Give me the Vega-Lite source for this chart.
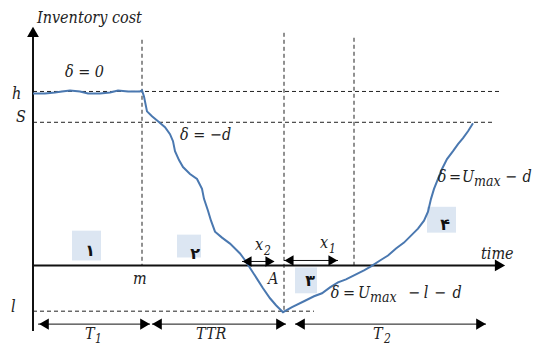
{
  "$schema": "https://vega.github.io/schema/vega-lite/v6.json",
  "width": 542,
  "height": 345,
  "autosize": {"type": "fit", "contains": "padding"},
  "padding": 0,
  "background": "white",
  "config": {"view": {"stroke": null}},
  "datasets": {
    "boxes": [
      {"x": 39, "x2": 68, "y": 35, "y2": 5},
      {"x": 144, "x2": 168, "y": 31, "y2": 8},
      {"x": 262, "x2": 284, "y": -2, "y2": -28},
      {"x": 394, "x2": 423, "y": 59, "y2": 33}
    ],
    "dashed": [
      {"name": "h", "x": 0, "x2": 467, "y": 175, "y2": 175},
      {"name": "S", "x": 0, "x2": 461, "y": 144, "y2": 144},
      {"name": "l", "x": 0, "x2": 281, "y": -46, "y2": -46},
      {"name": "m", "x": 109, "x2": 109, "y": 227, "y2": 0},
      {"name": "A", "x": 251, "x2": 251, "y": 234, "y2": -46},
      {"name": "x1", "x": 321, "x2": 321, "y": 229, "y2": 0}
    ],
    "dims": [
      {"name": "T1", "x": 5, "x2": 117, "y": -59, "y2": -59},
      {"name": "TTR", "x": 119, "x2": 253, "y": -59, "y2": -59},
      {"name": "T2", "x": 262, "x2": 453, "y": -59, "y2": -59},
      {"name": "x2", "x": 209, "x2": 241, "y": 4, "y2": 4},
      {"name": "x1", "x": 251, "x2": 305, "y": 5, "y2": 5}
    ],
    "axes": [
      {"name": "cost", "x": 0, "x2": 0, "y": -66, "y2": 232},
      {"name": "time", "x": 0, "x2": 465, "y": 0, "y2": 0}
    ],
    "heads": [
      {"x": 0, "y": 235, "shape": "triangle-up", "kind": "axis"},
      {"x": 467, "y": 0, "shape": "triangle-right", "kind": "axis"},
      {"x": 11, "y": -59, "shape": "triangle-left", "kind": "dim"},
      {"x": 112, "y": -59, "shape": "triangle-right", "kind": "dim"},
      {"x": 124, "y": -59, "shape": "triangle-left", "kind": "dim"},
      {"x": 248, "y": -59, "shape": "triangle-right", "kind": "dim"},
      {"x": 267, "y": -59, "shape": "triangle-left", "kind": "dim"},
      {"x": 448, "y": -59, "shape": "triangle-right", "kind": "dim"},
      {"x": 214, "y": 4, "shape": "triangle-left", "kind": "small"},
      {"x": 237, "y": 4, "shape": "triangle-right", "kind": "small"},
      {"x": 256, "y": 5, "shape": "triangle-left", "kind": "small"},
      {"x": 300, "y": 5, "shape": "triangle-right", "kind": "small"}
    ],
    "curve": [
      {"x": 0, "y": 173}, {"x": 12, "y": 173}, {"x": 22, "y": 174}, {"x": 29, "y": 175},
      {"x": 37, "y": 176}, {"x": 47, "y": 175}, {"x": 55, "y": 173}, {"x": 67, "y": 173},
      {"x": 77, "y": 174}, {"x": 85, "y": 176}, {"x": 95, "y": 175}, {"x": 107, "y": 175},
      {"x": 109, "y": 176}, {"x": 111, "y": 170}, {"x": 114, "y": 155}, {"x": 119, "y": 150},
      {"x": 125, "y": 145}, {"x": 132, "y": 139}, {"x": 137, "y": 132}, {"x": 140, "y": 125},
      {"x": 142, "y": 115}, {"x": 146, "y": 106}, {"x": 150, "y": 99}, {"x": 157, "y": 92},
      {"x": 164, "y": 87}, {"x": 169, "y": 77}, {"x": 171, "y": 67}, {"x": 175, "y": 55},
      {"x": 178, "y": 45}, {"x": 182, "y": 34}, {"x": 189, "y": 28}, {"x": 197, "y": 22},
      {"x": 207, "y": 12}, {"x": 213, "y": 4}, {"x": 218, "y": -4}, {"x": 225, "y": -15},
      {"x": 230, "y": -23}, {"x": 237, "y": -33}, {"x": 243, "y": -40}, {"x": 250, "y": -47},
      {"x": 259, "y": -42}, {"x": 271, "y": -36}, {"x": 281, "y": -31}, {"x": 289, "y": -28},
      {"x": 297, "y": -22}, {"x": 305, "y": -17}, {"x": 313, "y": -14}, {"x": 323, "y": -9},
      {"x": 331, "y": -5}, {"x": 338, "y": -1}, {"x": 347, "y": 5}, {"x": 355, "y": 10},
      {"x": 363, "y": 17}, {"x": 371, "y": 23}, {"x": 379, "y": 31}, {"x": 385, "y": 37},
      {"x": 391, "y": 45}, {"x": 395, "y": 54}, {"x": 398, "y": 67}, {"x": 401, "y": 77},
      {"x": 405, "y": 87}, {"x": 409, "y": 97}, {"x": 414, "y": 107}, {"x": 420, "y": 115},
      {"x": 425, "y": 122}, {"x": 430, "y": 128}, {"x": 435, "y": 135}, {"x": 440, "y": 143}
    ],
    "digits": [
      {"x": 57, "y": 15, "text": "۱"},
      {"x": 162, "y": 12, "text": "۲"},
      {"x": 277, "y": -16, "text": "۳"},
      {"x": 412, "y": 41, "text": "۴"}
    ],
    "labels": [
      {"x": 4, "y": 249, "text": "Inventory cost"},
      {"x": 32, "y": 195, "text": "δ = 0"},
      {"x": -21, "y": 172, "text": "h"},
      {"x": -17, "y": 149, "text": "S"},
      {"x": 147, "y": 131, "text": "δ = −d"},
      {"x": 100, "y": -14, "text": "m"},
      {"x": -22, "y": -42, "text": "l"},
      {"x": 52, "y": -69, "text": "T"},
      {"x": 163, "y": -69, "text": "TTR"},
      {"x": 340, "y": -69, "text": "T"},
      {"x": 222, "y": 21, "text": "x"},
      {"x": 287, "y": 23, "text": "x"},
      {"x": 235, "y": -14, "text": "A"},
      {"x": 448, "y": 12, "text": "time"}
    ],
    "pieces": [
      {"x": 409, "y": 89, "text": "δ"},
      {"x": 422, "y": 89, "text": "="},
      {"x": 435, "y": 89, "text": "U"},
      {"x": 478, "y": 89, "text": "−"},
      {"x": 494, "y": 89, "text": "d"},
      {"x": 302, "y": -28, "text": "δ"},
      {"x": 316, "y": -28, "text": "="},
      {"x": 331, "y": -28, "text": "U"},
      {"x": 381, "y": -28, "text": "−"},
      {"x": 393, "y": -28, "text": "l"},
      {"x": 407, "y": -28, "text": "−"},
      {"x": 424, "y": -28, "text": "d"}
    ],
    "subs": [
      {"x": 62, "y": -74, "text": "1"},
      {"x": 351, "y": -74, "text": "2"},
      {"x": 231, "y": 15, "text": "2"},
      {"x": 296, "y": 17, "text": "1"}
    ],
    "maxsubs": [
      {"x": 441, "y": 84, "text": "max"},
      {"x": 337, "y": -33, "text": "max"}
    ]
  },
  "encoding": {
    "x": {"field": "x", "type": "quantitative", "scale": {"domain": [-33, 509], "nice": false, "zero": false}, "axis": null},
    "y": {"field": "y", "type": "quantitative", "scale": {"domain": [-78, 267], "nice": false, "zero": false}, "axis": null}
  },
  "layer": [
    {
      "data": {"name": "boxes"},
      "mark": {"type": "rect", "fill": "#dce6f2"},
      "encoding": {"x2": {"field": "x2"}, "y2": {"field": "y2"}}
    },
    {
      "data": {"name": "dashed"},
      "mark": {"type": "rule", "stroke": "#222222", "strokeWidth": 1, "strokeDash": [4, 3]},
      "encoding": {"x2": {"field": "x2"}, "y2": {"field": "y2"}}
    },
    {
      "data": {"name": "dims"},
      "mark": {"type": "rule", "stroke": "#111111", "strokeWidth": 1},
      "encoding": {"x2": {"field": "x2"}, "y2": {"field": "y2"}}
    },
    {
      "data": {"name": "axes"},
      "mark": {"type": "rule", "stroke": "#111111", "strokeWidth": 2},
      "encoding": {"x2": {"field": "x2"}, "y2": {"field": "y2"}}
    },
    {
      "data": {"name": "curve"},
      "mark": {"type": "line", "stroke": "#4a78b0", "strokeWidth": 2},
      "encoding": {}
    },
    {
      "data": {"name": "heads"},
      "mark": {"type": "point", "filled": true, "color": "#000000", "opacity": 1},
      "encoding": {
        "shape": {"field": "shape", "type": "nominal", "scale": null},
        "size": {"field": "kind", "type": "nominal", "scale": {"domain": ["axis", "dim", "small"], "range": [140, 110, 70]}, "legend": null}
      }
    },
    {
      "data": {"name": "digits"},
      "mark": {"type": "text", "font": "DejaVu Sans", "fontSize": 16, "fontWeight": "bold", "color": "#111111", "align": "center", "baseline": "middle"},
      "encoding": {"text": {"field": "text"}}
    },
    {
      "data": {"name": "labels"},
      "mark": {"type": "text", "font": "DejaVu Serif Condensed", "fontStyle": "italic", "fontSize": 16, "color": "#222222", "align": "left", "baseline": "middle"},
      "encoding": {"text": {"field": "text"}}
    },
    {
      "data": {"name": "pieces"},
      "mark": {"type": "text", "font": "DejaVu Serif Condensed", "fontStyle": "italic", "fontSize": 16, "color": "#222222", "align": "center", "baseline": "middle"},
      "encoding": {"text": {"field": "text"}}
    },
    {
      "data": {"name": "subs"},
      "mark": {"type": "text", "font": "DejaVu Serif Condensed", "fontStyle": "italic", "fontSize": 12, "color": "#222222", "align": "left", "baseline": "middle"},
      "encoding": {"text": {"field": "text"}}
    },
    {
      "data": {"name": "maxsubs"},
      "mark": {"type": "text", "font": "DejaVu Serif Condensed", "fontStyle": "italic", "fontSize": 14, "color": "#222222", "align": "left", "baseline": "middle"},
      "encoding": {"text": {"field": "text"}}
    }
  ]
}
